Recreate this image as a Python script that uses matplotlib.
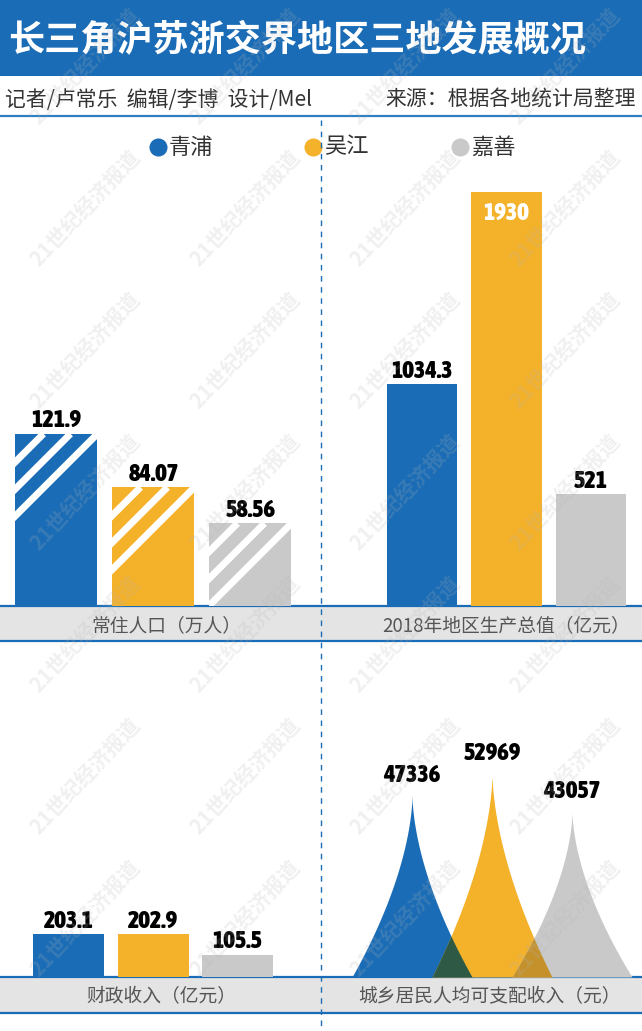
import numpy as np
import matplotlib
matplotlib.use('Agg')
import matplotlib.pyplot as plt
import matplotlib.transforms as mtransforms
from matplotlib import font_manager
from matplotlib.patches import Rectangle

plt.rcParams['font.family'] = ['Noto Sans CJK SC', 'DejaVu Sans']

# data
regions = ['青浦', '吴江', '嘉善']
population = [121.9, 84.07, 58.56]     # 常住人口（万人）
gdp_2018 = [1034.3, 1930, 521]         # 2018年地区生产总值（亿元）
revenue = [203.1, 202.9, 105.5]        # 财政收入（亿元）
income = [47336, 52969, 43057]         # 城乡居民人均可支配收入（元）
panel_titles = ['常住人口（万人）', '2018年地区生产总值（亿元）',
                '财政收入（亿元）', '城乡居民人均可支配收入（元）']

BLUE = '#1a6cb6'
colors = [BLUE, '#f4b12a', '#c9c9c9']
W, H = 642, 1031


def pick_num_font():
    # narrowest heavy font available, for Impact-like value labels
    stretch_rank = {'ultra-condensed': 5, 'extra-condensed': 4,
                    'condensed': 3, 'semi-condensed': 1}
    best, best_score = None, 0
    for f in font_manager.fontManager.ttflist:
        s = stretch_rank.get(str(f.stretch), 0)
        if 'Narrow' in f.name or 'Condensed' in f.name:
            s = max(s, 3)
        try:
            w = int(f.weight)
        except (TypeError, ValueError):
            w = {'bold': 700, 'heavy': 800, 'black': 900, 'extra bold': 800,
                 'semibold': 600, 'demibold': 600}.get(str(f.weight).lower(), 400)
        if s == 0 or w < 600 or 'Italic' in f.fname or f.style != 'normal':
            continue
        score = s * 10 + (w >= 700) * 5 + (w >= 800) * 2 + (w >= 900)
        if score > best_score:
            best, best_score = f.fname, score
    if best:
        return font_manager.FontProperties(fname=best, size=17.5)
    return font_manager.FontProperties(family='DejaVu Sans', weight='bold', size=15)


num_fp = pick_num_font()

fig = plt.figure(figsize=(W / 100, H / 100), dpi=100)


def pix_axes(x0, y0, x1, y1):
    # axes placed by pixel box (top-left origin)
    ax = fig.add_axes([x0 / W, 1 - y1 / H, (x1 - x0) / W, (y1 - y0) / H])
    ax.patch.set_alpha(0)
    ax.axis('off')
    return ax


# background / decorations
bg = pix_axes(0, 0, W, H)
bg.set_xlim(0, W)
bg.set_ylim(H, 0)
bg.add_patch(Rectangle((0, 0), W, 76, color=BLUE, lw=0))
bg.text(8, 40, '长三角沪苏浙交界地区三地发展概况', color='white',
        fontsize=26, fontweight='bold', va='center')
bg.text(5, 100, '记者/卢常乐  编辑/李博  设计/Mel', fontsize=15,
        color='#333333', va='center')
bg.text(636, 100, '来源：根据各地统计局整理', fontsize=15,
        color='#333333', va='center', ha='right')
bg.axhline(116, color='#2f7fc4', lw=1.6)

# legend
for x, name, c in zip([158, 313, 460], regions, colors):
    bg.plot(x, 147, 'o', ms=13, color=c, mec='none')
    bg.text(x + 11, 147, name, fontsize=16, color='#333333', va='center')

# category bands
for y0, y1 in [(606, 641), (977, 1013)]:
    bg.add_patch(Rectangle((0, y0), W, y1 - y0, color='#e4e4e4', lw=0))
    bg.axhline(y0, color=BLUE, lw=1.6)
    bg.axhline(y1, color=BLUE, lw=1.6)
bg.plot([321, 321], [120, H], color=BLUE, lw=1, dashes=(4, 4))


def panel(box, xlim, ytop, title, dx=0):
    ax = pix_axes(*box)
    ax.set_xlim(*xlim)
    ax.set_ylim(0, ytop)
    ax.annotate(title, xy=(1, 0), xycoords=('data', 'axes fraction'),
                xytext=(dx, -14), textcoords='offset points', ha='center',
                va='center', fontsize=13.5, color='#555555')
    return ax


label_kw = dict(fontproperties=num_fp)

# 常住人口
ax1 = panel((0, 170, 321, 606), (-0.582, 2.727), 308.6, panel_titles[0], dx=9)
bars1 = ax1.bar(range(3), population, width=0.845, color=colors)
ax1.bar_label(bars1, labels=[f'{v:g}' for v in population], padding=1, **label_kw)
for bar in bars1:
    trans = fig.dpi_scale_trans + mtransforms.ScaledTranslation(
        bar.get_x(), bar.get_height(), ax1.transData)
    for off in [0.28, 0.55, 0.82]:
        ln, = ax1.plot([off, off - 1.5], [0, -1.5], color='white', lw=5,
                       transform=trans, solid_capstyle='butt')
        ln.set_clip_path(bar)

# GDP
ax2 = panel((321, 170, 642, 606), (-1.195, 2.604), 2032.6, panel_titles[1])
bars2 = ax2.bar(range(3), gdp_2018, width=0.83, color=colors)
top = int(np.argmax(gdp_2018))
ax2.bar_label(bars2, labels=['' if i == top else f'{v:g}' for i, v in enumerate(gdp_2018)],
              padding=1, **label_kw)
ax2.annotate(f'{gdp_2018[top]:g}', xy=(top, gdp_2018[top]), xytext=(0, -7),
             textcoords='offset points', ha='center', va='top', color='white', **label_kw)

# 财政收入
ax3 = panel((0, 650, 321, 977), (-0.811, 2.988), 1544, panel_titles[2], dx=6)
bars3 = ax3.bar(range(3), revenue, width=0.84, color=colors)
ax3.bar_label(bars3, labels=[f'{v:g}' for v in revenue], padding=1, **label_kw)

# 人均可支配收入 (peak shapes)
ax4 = panel((321, 650, 642, 977), (-91 / 80, 230 / 80), 85000, panel_titles[3], dx=-2)
xs = np.linspace(*ax4.get_xlim(), 1500)


def peak(c, v, half=0.75):
    d = np.clip(np.abs(xs - c) / half, 0, 1)
    return v * (1 - d ** 0.59)


profiles = [peak(i, v) for i, v in enumerate(income)]
for prof, c in zip(profiles, colors):
    ax4.fill_between(xs, 0, prof, color=c, lw=0)
for i, c in enumerate(['#2e5a45', '#c4912a']):
    ax4.fill_between(xs, 0, np.minimum(profiles[i], profiles[i + 1]), color=c, lw=0)
for i, v in enumerate(income):
    ax4.annotate(f'{v:g}', xy=(i, v), xytext=(0, 6), textcoords='offset points',
                 ha='center', va='bottom', **label_kw)

# watermark
for ry in [66, 208, 350, 492, 634, 776, 918]:
    for cx in [85, 245, 405, 565]:
        fig.text(cx / W, 1 - ry / H, '21世纪经济报道', rotation=47, fontsize=15,
                 fontweight='bold', color='#b5b5b5', alpha=0.2,
                 ha='center', va='center', zorder=10)

fig.savefig('out.png', dpi=100)
